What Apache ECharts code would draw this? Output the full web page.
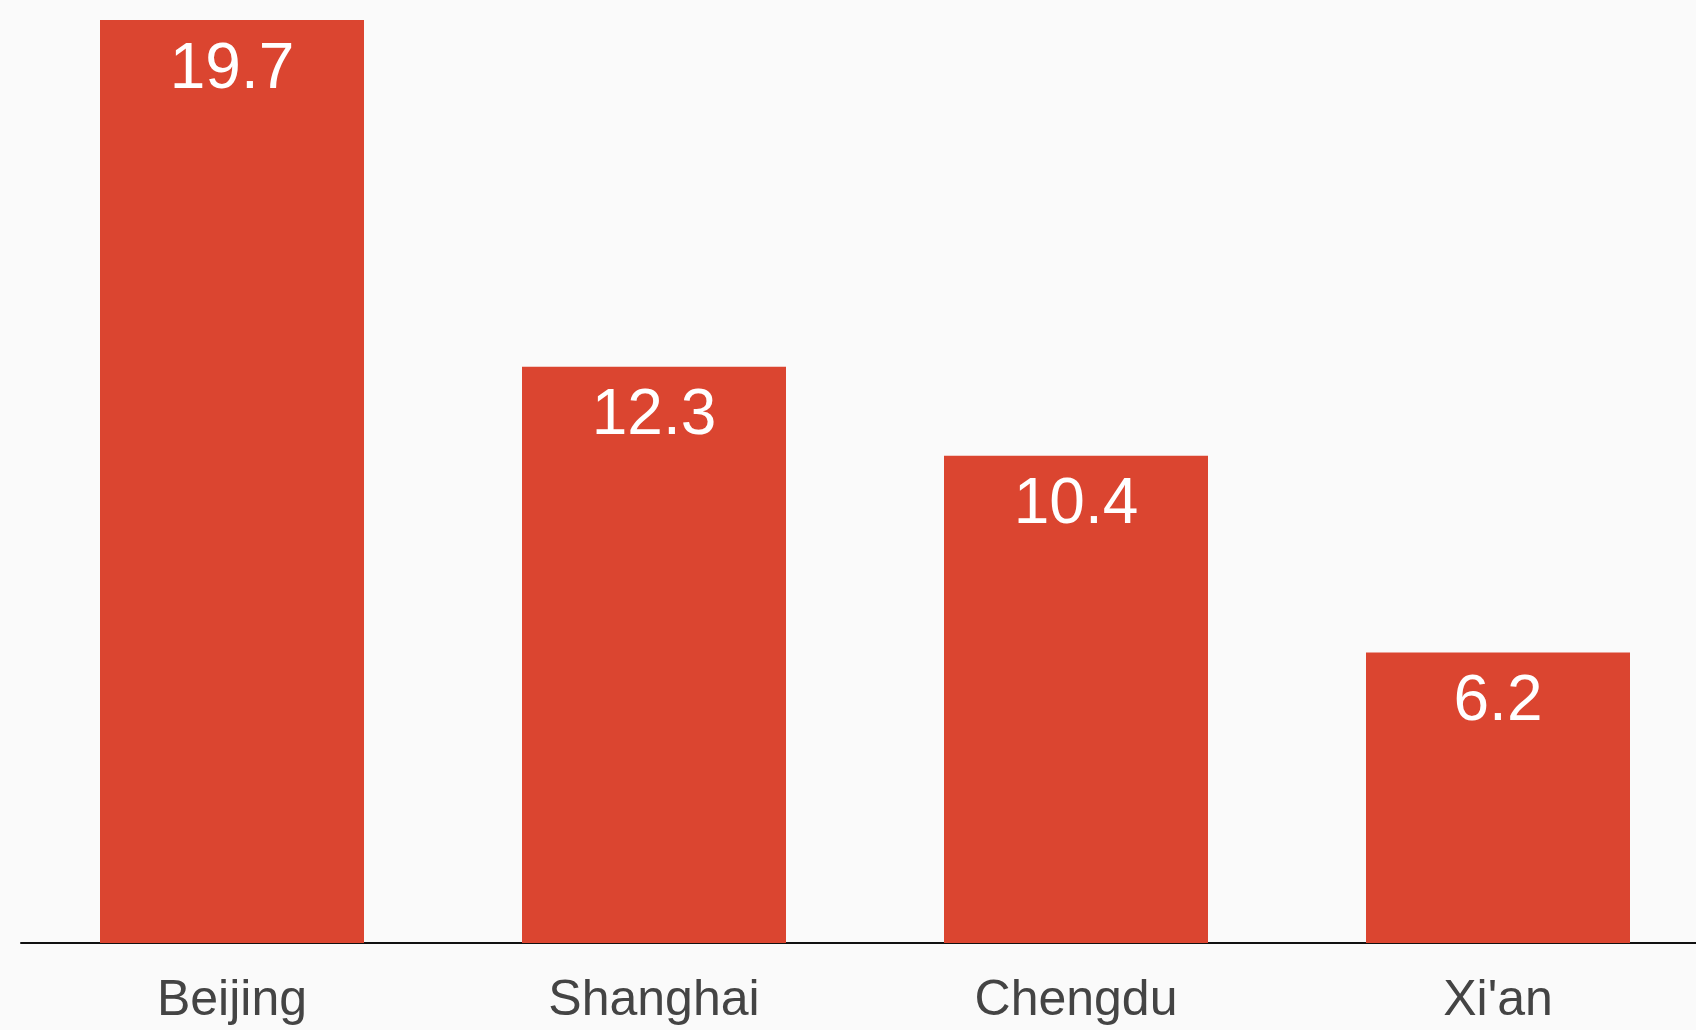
<!DOCTYPE html>
<html>
<head>
<meta charset="utf-8">
<style>
  html, body { margin: 0; padding: 0; background: #fafafa; overflow: hidden; }
  /* the drawing is a little wider than the window: the last category runs past the right edge */
  #chart { width: 1709px; height: 1030px; }
</style>
<script src="https://cdn.jsdelivr.net/npm/echarts@6/dist/echarts.min.js"></script>
</head>
<body>
<div id="chart"></div>
<script>
// City categories and their values
const cities = ['Beijing', 'Shanghai', 'Chengdu', "Xi'an"];
const values = [19.7, 12.3, 10.4, 6.2];

const chart = echarts.init(document.getElementById('chart'), null, { renderer: 'canvas' });

chart.setOption({
  backgroundColor: '#fafafa',
  animation: false,
  grid: { left: 21, top: 6, right: 0, bottom: 87, containLabel: false },
  xAxis: {
    type: 'category',
    data: cities,
    axisLine: { show: true, lineStyle: { color: '#111', width: 2 } },
    axisTick: { show: false },
    axisLabel: {
      color: '#444',
      fontSize: 50,
      fontFamily: 'Liberation Sans, Arial, sans-serif',
      margin: 33
    }
  },
  yAxis: {
    type: 'value',
    min: 0,
    max: 20,
    show: false,
    splitLine: { show: false }
  },
  series: [{
    type: 'bar',
    data: values,
    barWidth: 264,
    itemStyle: { color: '#db4530' },
    label: {
      show: true,
      position: 'insideTop',
      distance: 18,
      color: '#fff',
      fontSize: 64,
      fontFamily: 'Liberation Sans, Arial, sans-serif',
      formatter: p => p.value.toFixed(1)
    }
  }]
});
</script>
</body>
</html>
